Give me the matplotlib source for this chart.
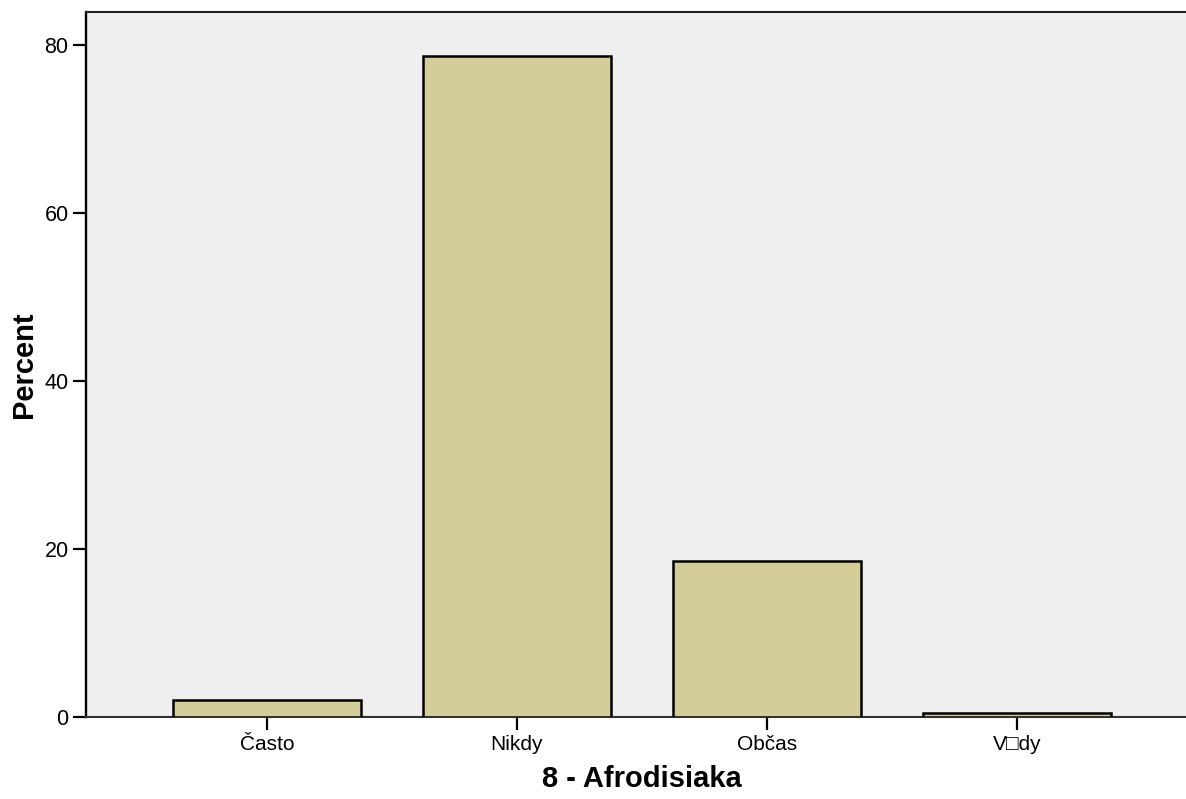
import matplotlib
matplotlib.use("Agg")
import matplotlib.pyplot as plt
import numpy as np

# ---------------------------------------------------------------------------
# Data
# ---------------------------------------------------------------------------
categories = ["Často", "Nikdy", "Občas", "V\u25a1dy"]
percent = [2.0, 78.7, 18.6, 0.5]
y_ticks = [0, 20, 40, 60, 80]

x_title = "8 - Afrodisiaka"
y_title = "Percent"

plt.rcParams["font.family"] = ["Liberation Sans", "DejaVu Sans"]

fig = plt.figure(figsize=(11.86, 7.99), dpi=100)
ax = fig.add_axes([0.0725, 0.1023, 0.9376, 0.8823])
ax.set_facecolor("#efefef")

pos = np.arange(len(categories))
ax.bar(pos, percent, width=0.752, color="#d3ce99",
       edgecolor="black", linewidth=1.8, zorder=3)

ax.set_xlim(-0.724, len(categories) - 1 + 0.724)
ax.set_ylim(0, 83.9)
ax.set_xticks(pos)
ax.set_xticklabels(categories, fontsize=15)
ax.set_yticks(y_ticks)
ax.set_yticklabels([str(t) for t in y_ticks], fontsize=15.5)
ax.tick_params(axis="both", length=9.5, width=1.6, color="black", pad=3)

ax.set_xlabel(x_title, fontsize=21, fontweight="bold", labelpad=8)
ax.set_ylabel(y_title, fontsize=21, fontweight="bold", labelpad=5)

ax.spines["left"].set_linewidth(1.7)
ax.spines["left"].set_color("black")
ax.spines["top"].set_linewidth(1.5)
ax.spines["top"].set_color("#222222")
ax.spines["bottom"].set_linewidth(1.5)
ax.spines["bottom"].set_color("#333333")
ax.spines["right"].set_visible(False)

fig.savefig("out.png", dpi=100)
